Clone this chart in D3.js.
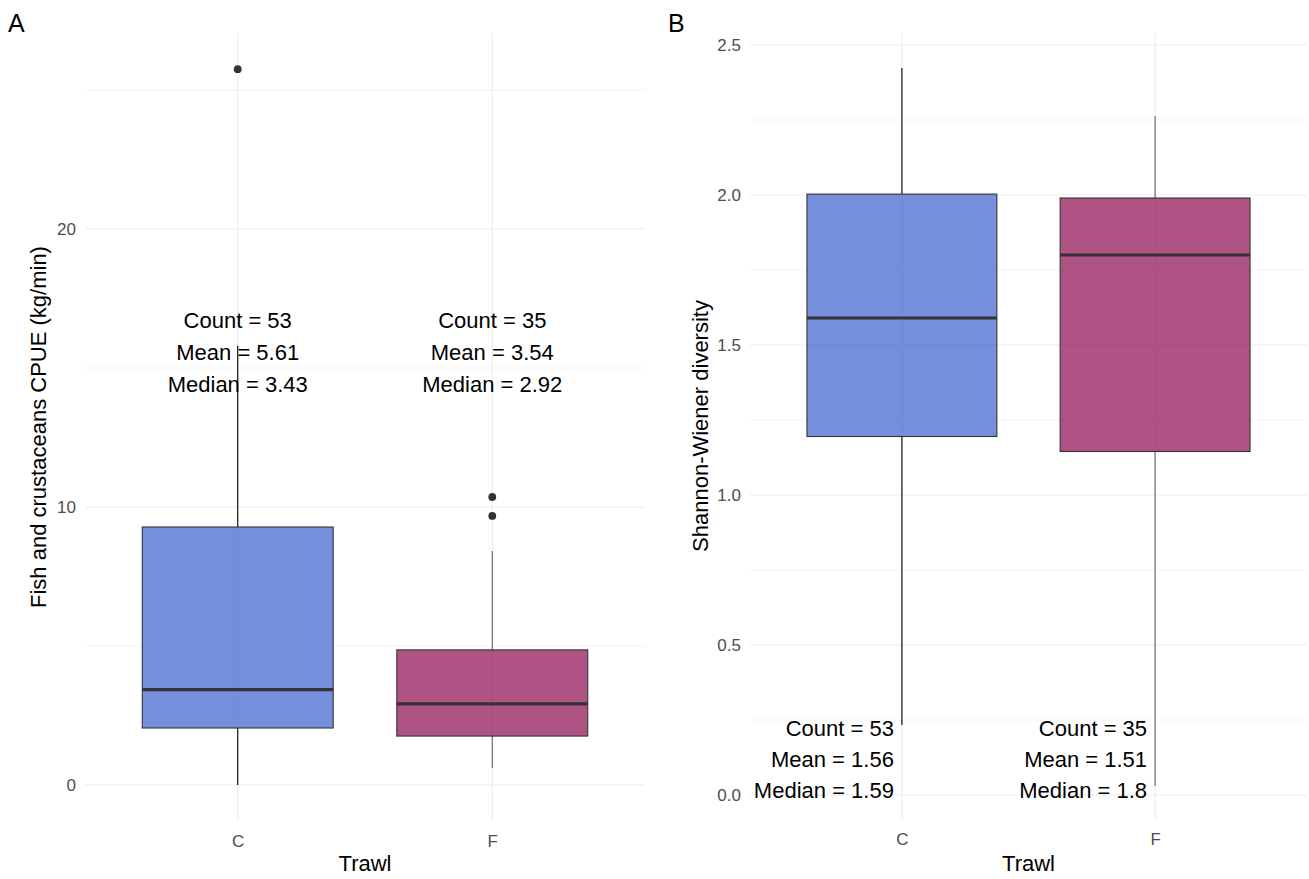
<!DOCTYPE html>
<html>
<head>
<meta charset="utf-8">
<script src="https://cdn.jsdelivr.net/npm/d3@7"></script>
<style>
  html, body { margin: 0; padding: 0; background: #ffffff; }
  svg { display: block; font-family: "Liberation Sans", Arial, sans-serif; }
</style>
</head>
<body>
<svg id="chart" width="1309" height="879"></svg>
<script>
// Trawl groups
const trawls = ["C", "F"];

// Panel A: fish and crustaceans CPUE (kg/min)
const cpueLower   = [0.0, 0.61];
const cpueQ1      = [2.05, 1.76];
const cpueMedian  = [3.43, 2.92];
const cpueQ3      = [9.28, 4.86];
const cpueUpper   = [15.8, 8.42];
const cpueOutliers = [[25.75], [10.36, 9.68]];
const cpueCount   = [53, 35];
const cpueMean    = [5.61, 3.54];
const cpueTicks   = [0, 10, 20];
const cpueMinor   = [5, 15, 25];

// Panel B: Shannon-Wiener diversity
const divLower   = [0.233, 0.03];
const divQ1      = [1.195, 1.145];
const divMedian  = [1.59, 1.8];
const divQ3      = [2.003, 1.99];
const divUpper   = [2.423, 2.263];
const divOutliers = [[], []];
const divCount   = [53, 35];
const divMean    = [1.56, 1.51];
const divTicks   = [0, 0.5, 1.0, 1.5, 2.0, 2.5];
const divMinor   = [0.25, 0.75, 1.25, 1.75, 2.25];

const fills = ["#3a5fcd", "#8b0a50"];
const whiskerColors = ["#000000", "#666666"];

const svg = d3.select("#chart");

function buildRows(lower, q1, med, q3, upper, outl, count, mean) {
  return trawls.map((t, i) => ({
    trawl: t, lower: lower[i], q1: q1[i], median: med[i], q3: q3[i],
    upper: upper[i], outliers: outl[i], count: count[i], mean: mean[i], idx: i
  }));
}

function drawPanel(opt) {
  const g = svg.append("g");
  const x = d3.scalePoint().domain(trawls).range([opt.left, opt.right]).padding(0.6);
  const y = d3.scaleLinear().domain(opt.yDomain).range([opt.bottom, opt.top]);
  const boxW = x.step() * 0.75;

  // grid
  g.selectAll(".minor").data(opt.minor).join("line")
    .attr("x1", opt.left).attr("x2", opt.right)
    .attr("y1", d => y(d)).attr("y2", d => y(d))
    .attr("stroke", "#ebebeb").attr("stroke-width", 0.6);
  g.selectAll(".major").data(opt.ticks).join("line")
    .attr("x1", opt.left).attr("x2", opt.right)
    .attr("y1", d => y(d)).attr("y2", d => y(d))
    .attr("stroke", "#ebebeb").attr("stroke-width", 1.1);
  g.selectAll(".vgrid").data(trawls).join("line")
    .attr("x1", d => x(d)).attr("x2", d => x(d))
    .attr("y1", opt.top).attr("y2", opt.bottom)
    .attr("stroke", "#ebebeb").attr("stroke-width", 1.1);

  // y axis labels
  const yAxis = d3.axisLeft(y).tickValues(opt.ticks).tickSize(0).tickPadding(9)
    .tickFormat(opt.tickFormat);
  const ya = g.append("g").attr("transform", `translate(${opt.left},0)`).call(yAxis);
  ya.select(".domain").remove();
  ya.selectAll("text").attr("fill", "#4d4d4d").style("font-size", "17px")
    .style("font-family", "'Liberation Sans', Arial, sans-serif");

  // x axis labels
  const xAxis = d3.axisBottom(x).tickSize(0).tickPadding(0);
  const xa = g.append("g").attr("transform", `translate(0,${opt.bottom})`).call(xAxis);
  xa.select(".domain").remove();
  xa.selectAll("text").attr("dy", null).attr("y", 26).attr("fill", "#4d4d4d")
    .style("font-size", "17px")
    .style("font-family", "'Liberation Sans', Arial, sans-serif");

  const rows = opt.rows;
  const box = g.selectAll(".box").data(rows).join("g");

  // whiskers
  box.append("line")
    .attr("x1", d => x(d.trawl)).attr("x2", d => x(d.trawl))
    .attr("y1", d => y(d.q3)).attr("y2", d => y(d.upper))
    .attr("stroke", d => whiskerColors[d.idx]).attr("stroke-width", 1.1);
  box.append("line")
    .attr("x1", d => x(d.trawl)).attr("x2", d => x(d.trawl))
    .attr("y1", d => y(d.q1)).attr("y2", d => y(d.lower))
    .attr("stroke", d => whiskerColors[d.idx]).attr("stroke-width", 1.1);

  // boxes
  box.append("rect")
    .attr("x", d => x(d.trawl) - boxW / 2).attr("width", boxW)
    .attr("y", d => y(d.q3)).attr("height", d => y(d.q1) - y(d.q3))
    .attr("fill", d => fills[d.idx]).attr("fill-opacity", 0.7)
    .attr("stroke", "#333333").attr("stroke-width", 1.1);
  box.append("line")
    .attr("x1", d => x(d.trawl) - boxW / 2).attr("x2", d => x(d.trawl) + boxW / 2)
    .attr("y1", d => y(d.median)).attr("y2", d => y(d.median))
    .attr("stroke", "#333333").attr("stroke-width", 3.2);

  // outliers
  box.selectAll("circle").data(d => d.outliers.map(v => ({ v, t: d.trawl }))).join("circle")
    .attr("cx", d => x(d.t)).attr("cy", d => y(d.v)).attr("r", 3.9)
    .attr("fill", "#333333");

  // summary labels
  rows.forEach(d => {
    const lines = [`Count = ${d.count}`, `Mean = ${d.mean}`, `Median = ${d.median}`];
    const t = g.append("text")
      .attr("text-anchor", opt.labelAnchor)
      .style("font-size", "22px").attr("fill", "#000");
    const lx = x(d.trawl) + opt.labelDx;
    const ly = y(opt.labelY);
    lines.forEach((s, k) => {
      t.append("tspan").attr("x", lx).attr("y", ly + (k - 1) * opt.lineStep).text(s);
    });
  });

  // axis titles
  g.append("text")
    .attr("x", (opt.left + opt.right) / 2).attr("y", 871)
    .attr("text-anchor", "middle").style("font-size", "22px").attr("fill", "#000")
    .text("Trawl");
  g.append("text")
    .attr("transform", `translate(${opt.yTitleX},${(opt.top + opt.bottom) / 2}) rotate(-90)`)
    .attr("text-anchor", "middle").style("font-size", "22px").attr("fill", "#000")
    .text(opt.yTitle);

  // panel tag
  g.append("text").attr("x", opt.tagX).attr("y", 32)
    .style("font-size", "25px").attr("fill", "#000").text(opt.tag);
}

drawPanel({
  left: 85, right: 645, top: 33, bottom: 821,
  yDomain: [-1.295, 27.05],
  ticks: cpueTicks, minor: cpueMinor, tickFormat: d3.format("d"),
  rows: buildRows(cpueLower, cpueQ1, cpueMedian, cpueQ3, cpueUpper, cpueOutliers, cpueCount, cpueMean),
  labelAnchor: "middle", labelDx: 0, labelY: 15.29, lineStep: 32,
  yTitle: "Fish and crustaceans CPUE (kg/min)", yTitleX: 46,
  tag: "A", tagX: 8
});

drawPanel({
  left: 750, right: 1307, top: 33, bottom: 819,
  yDomain: [-0.08, 2.54],
  ticks: divTicks, minor: divMinor, tickFormat: d3.format(".1f"),
  rows: buildRows(divLower, divQ1, divMedian, divQ3, divUpper, divOutliers, divCount, divMean),
  labelAnchor: "end", labelDx: -8, labelY: 0.093, lineStep: 31,
  yTitle: "Shannon-Wiener diversity", yTitleX: 708,
  tag: "B", tagX: 668
});
</script>
</body>
</html>
